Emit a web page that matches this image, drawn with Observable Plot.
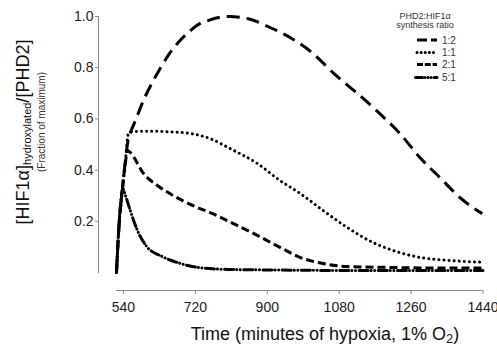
<!DOCTYPE html>
<html><head><meta charset="utf-8">
<script src="https://cdn.jsdelivr.net/npm/d3@7"></script>
<script src="https://cdn.jsdelivr.net/npm/@observablehq/plot@0.6"></script>
<style>
html,body{margin:0;padding:0;background:#fff;}
#chart{position:relative;width:497px;height:347px;}
svg{font-family:"Liberation Sans",Arial,sans-serif;}
</style></head>
<body><div id="chart"></div>
<script>
// ---- data ----
const seriesNames = ["1:2", "1:1", "2:1", "5:1"];
const t12 = [522.5, 528, 537, 545, 552, 557.5, 570, 590, 612, 632, 652, 677, 702, 732, 752, 775, 805, 850, 907, 957, 1015, 1065, 1102, 1140, 1182, 1232, 1282, 1332, 1382, 1438];
const v12 = [0, 0.164, 0.32, 0.44, 0.52, 0.547, 0.594, 0.672, 0.742, 0.797, 0.848, 0.898, 0.937, 0.973, 0.984, 0.995, 1.0, 0.992, 0.957, 0.918, 0.855, 0.78, 0.73, 0.68, 0.62, 0.543, 0.449, 0.371, 0.293, 0.23];
const t11 = [522.5, 528, 537, 545, 552, 560, 600, 650, 707, 757, 807, 875, 932, 982, 1040, 1100, 1165, 1215, 1282, 1357, 1440];
const v11 = [0, 0.164, 0.32, 0.44, 0.54, 0.55, 0.552, 0.55, 0.543, 0.523, 0.484, 0.426, 0.359, 0.309, 0.242, 0.176, 0.117, 0.086, 0.059, 0.047, 0.04];
const t21 = [522.5, 528, 537, 545, 550, 557, 590, 625, 665, 725, 757, 815, 875, 932, 982, 1040, 1100, 1200, 1300, 1440];
const v21 = [0, 0.164, 0.32, 0.43, 0.477, 0.469, 0.387, 0.34, 0.30, 0.254, 0.234, 0.191, 0.145, 0.098, 0.059, 0.035, 0.023, 0.02, 0.018, 0.018];
const t51 = [522.5, 528, 534, 538, 545, 557, 575, 600, 632, 675, 725, 800, 900, 1100, 1300, 1440];
const v51 = [0, 0.164, 0.29, 0.328, 0.30, 0.242, 0.164, 0.098, 0.066, 0.039, 0.02, 0.012, 0.01, 0.008, 0.008, 0.008];
const xTicks = [540, 720, 900, 1080, 1260, 1440];
const yTicks = [0.2, 0.4, 0.6, 0.8, 1.0];

// ---- styles ----
const dashes = {"1:2": "13,7", "1:1": "0.1,5", "2:1": "8,4", "5:1": "9,3,0.1,3.5,0.1,3.5"};
const caps = {"1:2": "butt", "1:1": "round", "2:1": "butt", "5:1": "round"};

const toRows = (name, ts, vs) => ts.map((t, i) => ({series: name, t, v: vs[i]}));
const data = [
  toRows("1:2", t12, v12), toRows("1:1", t11, v11),
  toRows("2:1", t21, v21), toRows("5:1", t51, v51)
];

const X0 = 477.5, X1 = 1440, Y0 = -0.0703;
const axisGray = "#8a8a8a";
const FF = "Liberation Sans, Arial, sans-serif";
const lineMarks = data.map((rows, i) => Plot.line(rows, {
  x: "t", y: "v", curve: "monotone-x", stroke: "#000", strokeWidth: 3,
  strokeDasharray: dashes[seriesNames[i]], strokeLinecap: caps[seriesNames[i]]
}));

const plot = Plot.plot({
  width: 497, height: 347,
  marginLeft: 98, marginRight: 14.5, marginTop: 16, marginBottom: 57,
  style: {fontFamily: FF, background: "#fff"},
  x: {domain: [X0, X1]},
  y: {domain: [Y0, 1.0]},
  marks: [
    Plot.ruleX([X0], {y1: -0.004, y2: 1.0, stroke: axisGray, strokeWidth: 1}),
    Plot.ruleY([Y0], {x1: 522.5, x2: 1440, stroke: axisGray, strokeWidth: 1}),
    Plot.axisY({ticks: yTicks, tickSize: 3, tickPadding: 2, tickFormat: d => d.toFixed(1),
      fontSize: 14, stroke: axisGray, color: "#222", label: null}),
    Plot.axisX({ticks: xTicks, tickSize: 4, tickPadding: 8, tickFormat: d => String(d),
      fontSize: 14, stroke: axisGray, color: "#222", label: null}),
    ...lineMarks
  ]
});
document.getElementById("chart").appendChild(plot);

// ---- titles and legend ----
const svg = d3.select(plot);
// y title
const yt = svg.append("text").attr("transform", "translate(29,132) rotate(-90)")
  .attr("text-anchor", "middle").attr("fill", "#111").attr("font-size", 18)
  .style("font-family", FF);
yt.append("tspan").text("[HIF1α]");
yt.append("tspan").attr("font-size", 11).attr("dy", 1.5).text("hydroxylated");
yt.append("tspan").attr("dy", -1.5).text("/[PHD2]");
svg.append("text").attr("transform", "translate(45,122) rotate(-90)")
  .attr("text-anchor", "middle").attr("font-size", 10).attr("fill", "#333")
  .style("font-family", FF)
  .text("(Fraction of maximum)");
// x title
const xt = svg.append("text").attr("x", 325).attr("y", 340)
  .attr("text-anchor", "middle").attr("font-size", 18).attr("fill", "#111")
  .style("font-family", FF);
xt.append("tspan").text("Time (minutes of hypoxia, 1% O");
xt.append("tspan").attr("font-size", 13).attr("dy", 3).text("2");
xt.append("tspan").attr("dy", -3).text(")");
// legend
const lg = svg.append("g").style("font-family", FF).attr("fill", "#333");
lg.append("text").attr("x", 425).attr("y", 18.5).attr("text-anchor", "middle").attr("font-size", 9).text("PHD2:HIF1α");
lg.append("text").attr("x", 425).attr("y", 27.5).attr("text-anchor", "middle").attr("font-size", 9).text("synthesis ratio");
const legY = [40, 52.5, 64.5, 77.5];
const legDash = {"1:2": "10,4", "1:1": "0.1,4", "2:1": "6,1.8", "5:1": "7,2.5,0.1,3,0.1,3,0.1,3"};
seriesNames.forEach((s, i) => {
  lg.append("line").attr("x1", s === "5:1" ? 415.5 : 417).attr("x2", 437).attr("y1", legY[i]).attr("y2", legY[i])
    .attr("stroke", "#000").attr("stroke-width", 3)
    .attr("stroke-dasharray", legDash[s]).attr("stroke-linecap", caps[s]);
  lg.append("text").attr("x", 442).attr("y", legY[i] + 3.5).attr("text-anchor", "start")
    .attr("font-size", 10).text(s);
});
</script></body></html>
